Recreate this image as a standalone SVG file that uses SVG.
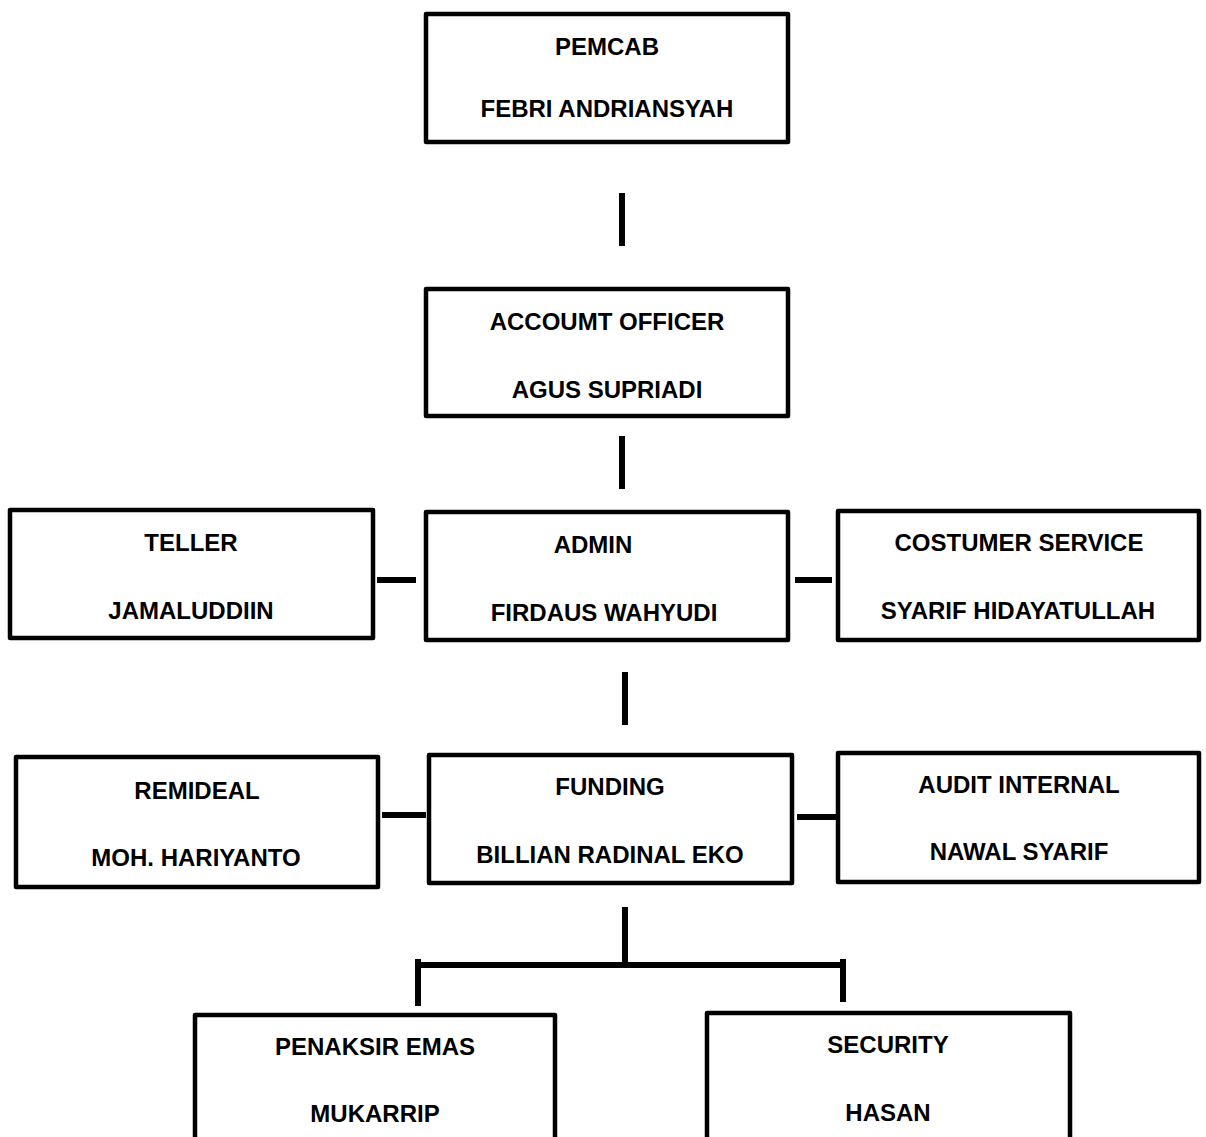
<svg xmlns="http://www.w3.org/2000/svg" width="1206" height="1137" viewBox="0 0 1206 1137">
<style>
.box{fill:#fff;stroke:#000;stroke-width:4.5;stroke-linejoin:round}
.t{font-family:"Liberation Sans",Arial,sans-serif;font-weight:bold;font-size:24px;fill:#000;text-anchor:middle}
.c{stroke:#000;stroke-width:6;fill:none}
</style>
<rect width="1206" height="1137" fill="#fff"/>
<g id="connectors">
<line class="c" x1="622" y1="193" x2="622" y2="246"/>
<line class="c" x1="622" y1="436" x2="622" y2="489"/>
<line class="c" x1="625" y1="672" x2="625" y2="725"/>
<line class="c" x1="625" y1="907" x2="625" y2="962"/>
<line class="c" x1="377" y1="580" x2="416" y2="580"/>
<line class="c" x1="795" y1="580" x2="832" y2="580"/>
<line class="c" x1="382" y1="815" x2="426" y2="815"/>
<line class="c" x1="797" y1="817" x2="842" y2="817"/>
<line class="c" x1="417" y1="965" x2="843" y2="965"/>
<line class="c" x1="418" y1="959" x2="418" y2="1006"/>
<line class="c" x1="843" y1="959" x2="843" y2="1002"/>
</g>
<g id="pemcab"><rect class="box" x="426" y="14" width="362" height="128"/>
<text class="t" x="607" y="55">PEMCAB</text><text class="t" x="607" y="117">FEBRI ANDRIANSYAH</text></g>
<g id="ao"><rect class="box" x="426" y="289" width="362" height="127"/>
<text class="t" x="607" y="330">ACCOUMT OFFICER</text><text class="t" x="607" y="398">AGUS SUPRIADI</text></g>
<g id="teller"><rect class="box" x="10" y="510" width="363" height="128"/>
<text class="t" x="191" y="551">TELLER</text><text class="t" x="191" y="619">JAMALUDDIIN</text></g>
<g id="admin"><rect class="box" x="426" y="512" width="362" height="128"/>
<text class="t" x="593" y="553">ADMIN</text><text class="t" x="604" y="621">FIRDAUS WAHYUDI</text></g>
<g id="cs"><rect class="box" x="838" y="511" width="361" height="129"/>
<text class="t" x="1019" y="551">COSTUMER SERVICE</text><text class="t" x="1018" y="619">SYARIF HIDAYATULLAH</text></g>
<g id="remideal"><rect class="box" x="16" y="757" width="362" height="130"/>
<text class="t" x="197" y="799">REMIDEAL</text><text class="t" x="196" y="866">MOH. HARIYANTO</text></g>
<g id="funding"><rect class="box" x="429" y="755" width="363" height="128"/>
<text class="t" x="610" y="795">FUNDING</text><text class="t" x="610" y="863">BILLIAN RADINAL EKO</text></g>
<g id="audit"><rect class="box" x="838" y="753" width="361" height="129"/>
<text class="t" x="1019" y="793">AUDIT INTERNAL</text><text class="t" x="1019" y="860">NAWAL SYARIF</text></g>
<g id="penaksir"><rect class="box" x="195" y="1015" width="360" height="140"/>
<text class="t" x="375" y="1055">PENAKSIR EMAS</text><text class="t" x="375" y="1122">MUKARRIP</text></g>
<g id="security"><rect class="box" x="707" y="1013" width="363" height="140"/>
<text class="t" x="888" y="1053">SECURITY</text><text class="t" x="888" y="1121">HASAN</text></g>
</svg>
